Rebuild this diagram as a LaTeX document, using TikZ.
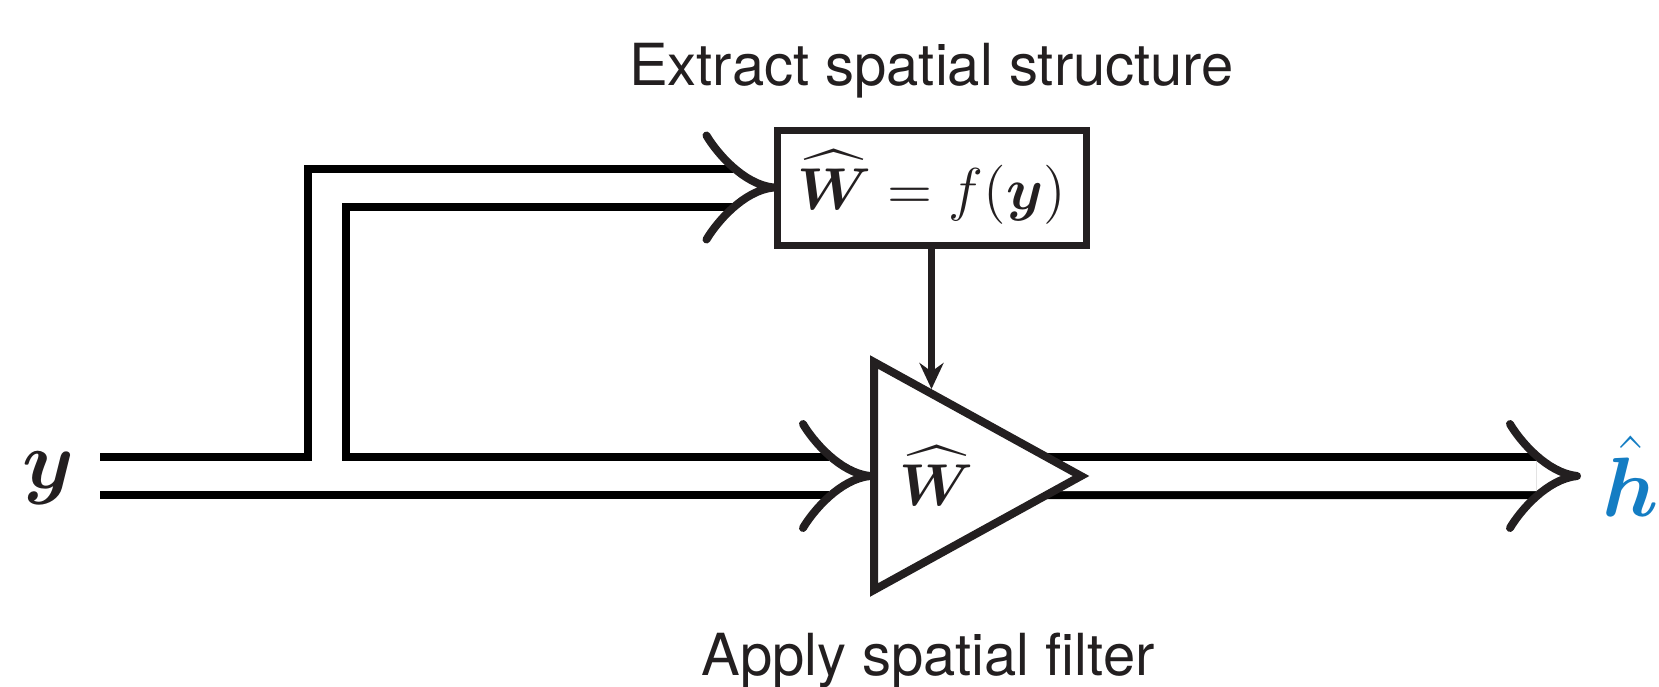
\RequirePackage{fix-cm}
\documentclass[tikz,border=0pt]{standalone}
\usepackage{amsmath,amssymb}
\usepackage{fontspec}
\usepackage{xcolor}
\usepackage{tikz}
\usetikzlibrary{shapes.geometric, arrows.meta, positioning, backgrounds}

\newfontfamily\labelfont{TeX Gyre Heros}
\definecolor{ink}{RGB}{35,31,32}
\definecolor{hatblue}{RGB}{20,125,195}

\begin{document}
\begin{tikzpicture}[
    color=ink,
    pipe/.style={line width=0.08cm, double=white, double distance=0.30cm, shorten >=0.41cm},
    block/.style={rectangle, draw, line width=0.07cm, minimum width=3.09cm, minimum height=1.15cm, inner sep=0pt, font=\fontsize{16.8}{20}\selectfont},
    filter/.style={isosceles triangle, isosceles triangle stretches, draw, fill=white, line width=0.08cm, minimum width=2.28cm, minimum height=2.07cm, inner sep=0pt, font=\fontsize{16.8}{20}\selectfont},
    caption/.style={font=\labelfont\fontsize{16.5}{20}\selectfont},
    arrow/.style={-{Stealth[length=0.26cm, width=0.24cm]}, line width=0.07cm},
    barbs/.pic={\draw[line width=0.08cm, line cap=round, line join=round]
        (-0.67,0.52) .. controls (-0.57,0.35) and (-0.30,0.03) .. (0,0)
        .. controls (-0.30,-0.03) and (-0.57,-0.35) .. (-0.67,-0.52);},
]
    \useasboundingbox (0,0) rectangle (16.59,-6.87);

    \node[block] (wbox) at (9.315,-1.875) {$\widehat{\boldsymbol{W}} = f(\boldsymbol{y})$};
    \node[filter, anchor=west] (filt) at (8.70,-4.76) {$\widehat{\boldsymbol{W}}$};
    \node[anchor=east, inner sep=0.25cm, font=\fontsize{23.5}{28}\selectfont] (yin) at (1.00,-4.78) {$\boldsymbol{y}$};
    \node[anchor=west, inner sep=0.25cm, font=\fontsize{24}{29}\selectfont, text=hatblue] (hhat) at (15.77,-4.76) {$\hat{\boldsymbol{h}}$};

    \node[caption, above=0.16cm of wbox] (extract) {Extract spatial structure};
    \node[caption, anchor=base] (apply) at (9.28,-6.75) {Apply spatial filter};

    \coordinate (split) at (3.265,-4.61);
    \path (filt.left corner) -- (filt.apex) coordinate[pos=0.28] (hit);

    % double signal lines sit under the blocks
    \begin{scope}[on background layer]
        \draw[pipe] (yin.east |- filt.west) -- (filt.west);
        \draw[pipe] (split) |- (wbox.west);
        \draw[pipe] (filt.center) -- (hhat.west);
    \end{scope}

    \pic at (filt.west) {barbs};
    \pic at (wbox.west) {barbs};
    \pic at (hhat.west) {barbs};

    \draw[arrow] (wbox.south) -- (wbox.south |- hit);
\end{tikzpicture}
\end{document}
